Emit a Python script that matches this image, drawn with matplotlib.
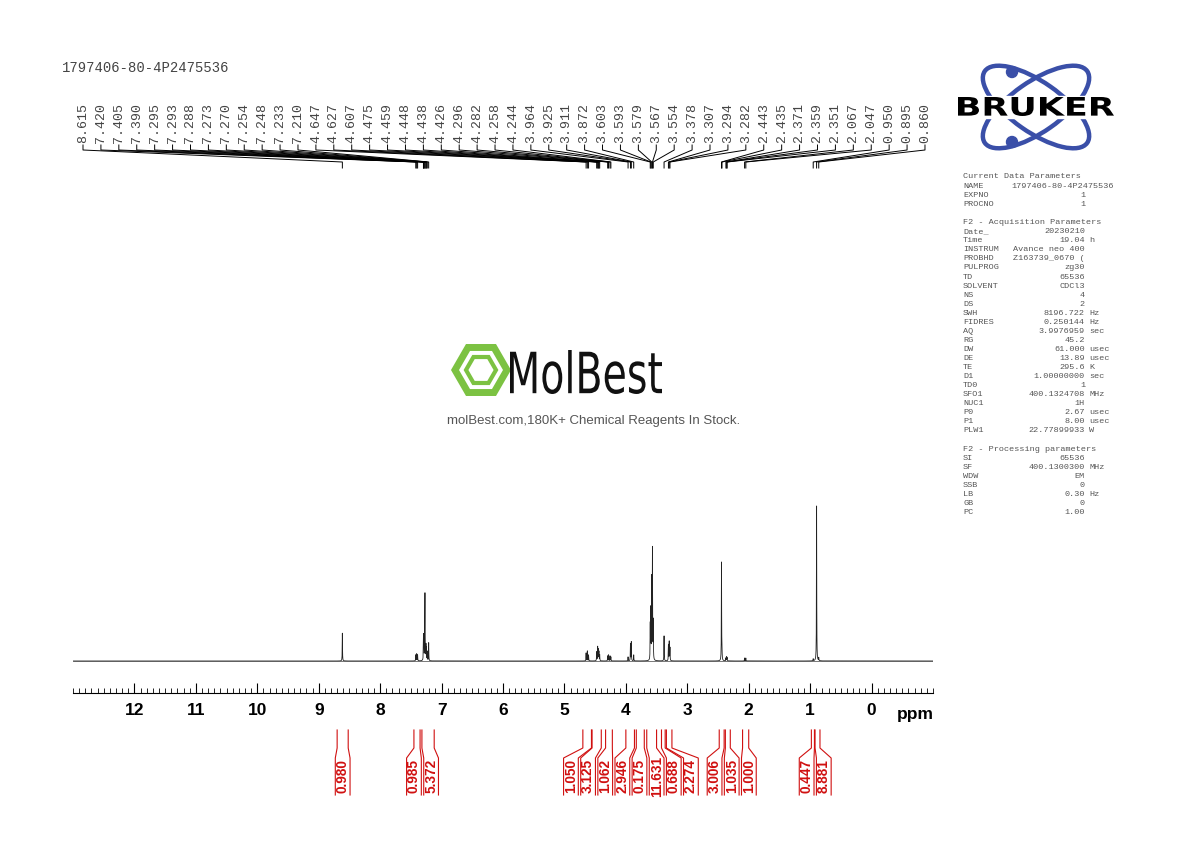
import numpy as np
import matplotlib
matplotlib.use("Agg")
import matplotlib.pyplot as plt
from matplotlib.patches import Ellipse, RegularPolygon, Circle, PathPatch
from matplotlib.textpath import TextPath
from matplotlib.font_manager import FontProperties
import matplotlib.transforms as mtransforms

W, H = 1190, 842
title = "1797406-80-4P2475536"
peak_ppm = [8.615, 7.420, 7.405, 7.390, 7.295, 7.293, 7.288, 7.273, 7.270, 7.254, 7.248, 7.233, 7.210,
            4.647, 4.627, 4.607, 4.475, 4.459, 4.448, 4.438, 4.426, 4.296, 4.282, 4.258, 4.244,
            3.964, 3.925, 3.911, 3.872, 3.603, 3.593, 3.579, 3.567, 3.554, 3.378, 3.307, 3.294, 3.282,
            2.443, 2.435, 2.371, 2.359, 2.351, 2.067, 2.047, 0.950, 0.895, 0.860]
peak_h = [28, 6, 7, 6, 14, 14, 16, 22, 58, 14, 11, 9, 18,
          8, 10, 6, 9, 14, 11, 9, 6, 5, 6, 5, 4,
          4, 17, 19, 6, 35, 50, 80, 110, 38, 25, 16, 19, 13,
          99, 7, 3, 4, 3, 3, 3, 2, 156, 3]
int_regions = [(8.70, 8.52), (7.45, 7.35), (7.32, 7.12), (4.70, 4.56), (4.55, 4.40), (4.33, 4.22),
               (4.00, 3.86), (3.83, 3.70), (3.66, 3.50), (3.42, 3.36), (3.34, 3.25), (2.48, 2.40),
               (2.38, 2.30), (2.10, 2.00), (0.98, 0.93), (0.92, 0.84)]
int_values = ["0.980", "0.985", "5.372", "1.050", "3.125", "1.062", "2.946", "0.175", "11.631",
              "0.688", "2.274", "3.006", "1.035", "1.000", "0.447", "8.881"]
params = [("Current Data Parameters", "", ""), ("NAME", "1797406-80-4P2475536", ""), ("EXPNO", "1", ""),
          ("PROCNO", "1", ""), None, ("F2 - Acquisition Parameters", "", ""), ("Date_", "20230210", ""),
          ("Time", "19.04", "h"), ("INSTRUM", "Avance neo 400", ""), ("PROBHD", "Z163739_0670 (", ""),
          ("PULPROG", "zg30", ""), ("TD", "65536", ""), ("SOLVENT", "CDCl3", ""), ("NS", "4", ""),
          ("DS", "2", ""), ("SWH", "8196.722", "Hz"), ("FIDRES", "0.250144", "Hz"),
          ("AQ", "3.9976959", "sec"), ("RG", "45.2", ""), ("DW", "61.000", "usec"),
          ("DE", "13.89", "usec"), ("TE", "295.6", "K"), ("D1", "1.00000000", "sec"), ("TD0", "1", ""),
          ("SFO1", "400.1324708", "MHz"), ("NUC1", "1H", ""), ("P0", "2.67", "usec"),
          ("P1", "8.00", "usec"), ("PLW1", "22.77899933", "W"), None,
          ("F2 - Processing parameters", "", ""), ("SI", "65536", ""), ("SF", "400.1300300", "MHz"),
          ("WDW", "EM", ""), ("SSB", "0", ""), ("LB", "0.30", "Hz"), ("GB", "0", ""), ("PC", "1.00", "")]

fig = plt.figure(figsize=(W/100, H/100), dpi=100)
def fy(py): return 1 - py/H
def fx(px): return px/W

ax = fig.add_axes([fx(73), fy(693), fx(933)-fx(73), (693-170)/H])
ax.set_xlim(13.0, -1.0)
ax.set_ylim(-32, 491)
x = np.arange(-1.0, 13.0, 0.0004)
y = np.zeros_like(x)
g = 0.0025
for p, h in zip(peak_ppm, peak_h):
    y += h * g**2 / ((x - p)**2 + g**2)
ax.plot(x, y, color="#222222", lw=0.6)
ax.plot([13, -1], [0, 0], color="#444444", lw=0.5)
for s in ["top", "left", "right"]:
    ax.spines[s].set_visible(False)
ax.set_yticks([])
ax.set_xticks(range(12, -1, -1))
ax.set_xticklabels([str(i) for i in range(12, -1, -1)], fontsize=12.5, fontweight="bold",
                   family="Liberation Sans")
ax.set_xticks(np.arange(-1.0, 13.01, 0.1), minor=True)
ax.tick_params(axis="x", which="major", direction="in", length=7, pad=7, width=0.8)
ax.tick_params(axis="x", which="minor", direction="in", length=3.5, width=0.6)
fig.text(fx(915), fy(714), "ppm", fontsize=12.5, fontweight="bold", family="Liberation Sans",
         ha="center", va="center")

bt = mtransforms.blended_transform_factory(ax.transData, fig.transFigure)
n = len(peak_ppm)
for i, p in enumerate(peak_ppm):
    lx = 83 + i*(925-83)/(n-1)
    lp = 13.0 - (lx - 73)/61.43
    fig.text(fx(lx), fy(143), f"{p:.3f}", rotation=90, ha="center", va="bottom",
             fontsize=9.5, family="Liberation Mono", color="#444444")
    ax.plot([lp, lp, p, p], [fy(145), fy(150), fy(162), fy(168)], transform=bt,
            color="black", lw=0.7, clip_on=False)

fig.text(fx(62), fy(68), title, fontsize=10, family="Liberation Mono", color="#444444",
         va="center")

centers = [(a+b)/2 for a, b in int_regions]
lab = list(centers)
sp = 0.279
for _ in range(300):
    for i in range(1, len(lab)):
        if lab[i-1] - lab[i] < sp:
            d = (sp - (lab[i-1] - lab[i]))/2
            lab[i-1] += d
            lab[i] -= d
red = "#d01010"
for (a, b), v, lc in zip(int_regions, int_values, lab):
    for e, off in [(a, 0.12), (b, -0.12)]:
        ax.plot([e, e, lc+off, lc+off], [fy(730), fy(748), fy(758), fy(795)], transform=bt,
                color=red, lw=0.8, clip_on=False)
    ax.text(lc, fy(776), v, transform=bt, rotation=90, ha="center", va="center", color=red,
            fontsize=9.8, fontweight="bold", family="Liberation Sans")

py = 177
for row in params:
    if row is None:
        py += 9.5
        continue
    nm, val, un = row
    fig.text(fx(963), fy(py), nm, fontsize=6.1, family="Liberation Mono", color="#555555", va="center")
    if nm == "NAME":
        fig.text(fx(1011), fy(py), val, fontsize=6.1, family="Liberation Mono", color="#555555",
                 va="center", ha="left")
    elif val:
        fig.text(fx(1085), fy(py), val, fontsize=6.1, family="Liberation Mono", color="#555555",
                 va="center", ha="right")
    if un:
        fig.text(fx(1089), fy(py), un, fontsize=6.1, family="Liberation Mono", color="#555555",
                 va="center")
    py += 9.05

# Bruker logo
lax = fig.add_axes([fx(950), fy(160), 170/W, 100/H])
lax.set_xlim(950, 1120); lax.set_ylim(160, 60); lax.axis("off")
for ang in [35, -35]:
    lax.add_patch(Ellipse((1036, 107), 125, 50, angle=ang, fill=False, ec="#3a4fa8", lw=3.2))
lax.add_patch(Circle((1012, 72), 5.5, color="#3a4fa8"))
lax.add_patch(Circle((1012, 142), 5.5, color="#3a4fa8"))
lax.add_patch(plt.Rectangle((957, 96), 160, 22, color="white"))
tp = TextPath((0, 0), "BRUKER", size=20, prop=FontProperties(family="DejaVu Sans", weight="bold"))
bb = tp.get_extents()
tr = mtransforms.Affine2D().translate(-bb.x0, -bb.y0).scale(156/bb.width, -19/bb.height).translate(958, 116)
lax.add_patch(PathPatch(tr.transform_path(tp), color="black", lw=0))

# MolBest logo
mx = fig.add_axes([fx(440), fy(440), 320/W, 110/H])
mx.set_xlim(440, 760); mx.set_ylim(440, 330); mx.axis("off")
mx.add_patch(RegularPolygon((481, 370), 6, radius=26, orientation=np.pi/6, fill=False,
                            ec="#7cc242", lw=5))
mx.add_patch(RegularPolygon((481, 370), 6, radius=15, orientation=np.pi/6, fill=False,
                            ec="#7cc242", lw=3))
tp = TextPath((0, 0), "MolBest", size=40, prop=FontProperties(family="DejaVu Sans"))
bb = tp.get_extents()
tr = mtransforms.Affine2D().translate(-bb.x0, -bb.y0).scale(152/bb.width, -44/bb.height).translate(510, 394)
mx.add_patch(PathPatch(tr.transform_path(tp), color="#111111", lw=0))
mx.text(594, 421, "molBest.com,180K+ Chemical Reagents In Stock.", fontsize=9.5,
        family="Liberation Sans", color="#555555", ha="center", va="center")

fig.savefig("out.png", dpi=100)
